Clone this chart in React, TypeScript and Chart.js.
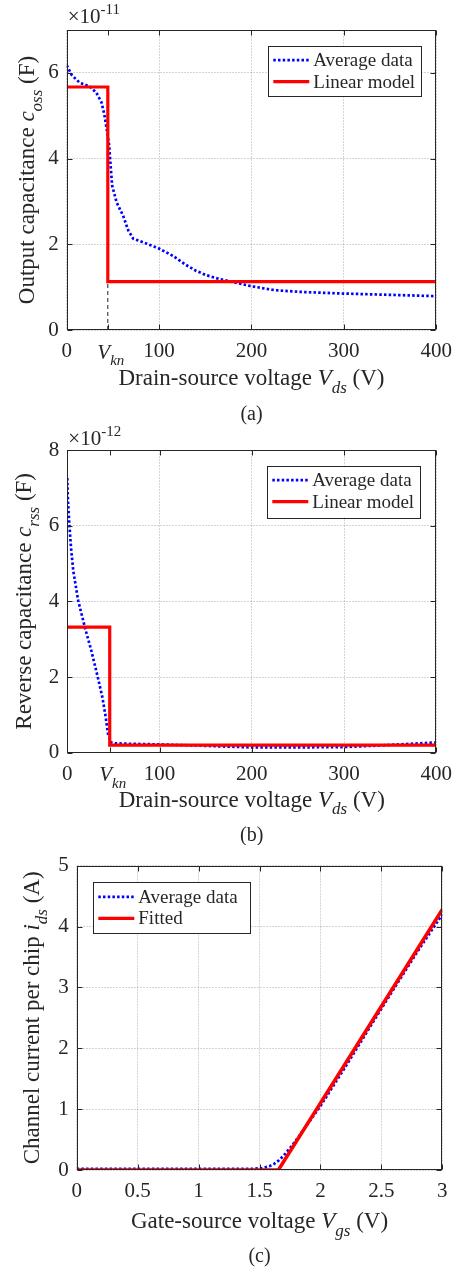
import React, { useEffect, useRef } from "react";
import { Chart, registerables } from "chart.js";

Chart.register(...registerables);

const FONT = '"Liberation Serif", "Times New Roman", Times, serif';
const TXT = "#262626";
const GRID = "rgba(38,38,38,0.2)";
const BLUE = "#0000ff";
const RED = "#ff0000";

// ---------- (a) Output capacitance (×1e-11 F) ----------
const aVds = [0, 5.4, 14, 25, 32, 37.7, 40.6, 43, 46, 47.5, 49.2, 54, 61, 66.5, 72, 86, 100, 115, 129, 140, 151, 165, 180, 200, 225, 252, 275, 300, 350, 400];
const aCoss = [6.18, 5.95, 5.77, 5.68, 5.54, 5.31, 5.04, 4.73, 4.3, 3.84, 3.37, 2.98, 2.67, 2.33, 2.13, 2.02, 1.9, 1.73, 1.52, 1.38, 1.28, 1.19, 1.12, 1.02, 0.93, 0.89, 0.87, 0.85, 0.82, 0.79];
const aModelVds = [0, 44.5, 44.5, 400];
const aModelCoss = [5.67, 5.67, 1.13, 1.13];
const aVkn = 44.5;
const aKneeY = [0, 1.13];
const aXTicks = [0, 100, 200, 300, 400];
const aYTicks = [0, 2, 4, 6];

// ---------- (b) Reverse capacitance (×1e-12 F) ----------
const bVds = [0, 0.6, 2.2, 4, 6.5, 11.8, 19, 26, 33, 38, 41.6, 44, 47.7, 52, 60, 100, 150, 200, 250, 300, 330, 360, 400];
const bCrss = [7.26, 6.7, 6.04, 5.42, 4.8, 4.02, 3.32, 2.7, 2.0, 1.47, 0.95, 0.51, 0.27, 0.25, 0.24, 0.22, 0.18, 0.14, 0.14, 0.15, 0.18, 0.22, 0.27];
const bModelVds = [0, 46, 46, 400];
const bModelCrss = [3.32, 3.32, 0.2, 0.2];
const bVkn = 46;
const bXTicks = [0, 100, 200, 300, 400];
const bYTicks = [0, 2, 4, 6, 8];

// ---------- (c) Channel current ----------
const cVgs = [0, 0.5, 1.0, 1.45, 1.52, 1.58, 1.62, 1.66, 1.7, 1.75, 1.8, 1.9, 2.0, 2.2, 2.4, 2.6, 2.8, 3.0];
const cIds = [0.02, 0.02, 0.02, 0.02, 0.03, 0.06, 0.1, 0.16, 0.24, 0.36, 0.49, 0.77, 1.05, 1.68, 2.33, 2.97, 3.6, 4.2];
const cFitVgs = [0, 1.655, 3];
const cFitIds = [0, 0, 4.28];
const cXTicks = [0, 0.5, 1, 1.5, 2, 2.5, 3];
const cYTicks = [0, 1, 2, 3, 4, 5];

type Seg = { t: string; it?: boolean; sub?: boolean; sup?: boolean };

function segFont(s: Seg, size: number) {
  const sz = s.sub || s.sup ? Math.round(size * 0.72) : size;
  return `${s.it ? "italic " : ""}${sz}px ${FONT}`;
}

function drawRich(ctx: CanvasRenderingContext2D, segs: Seg[], x: number, y: number, size: number, align: "center" | "left") {
  const widths = segs.map((s) => {
    ctx.font = segFont(s, size);
    return ctx.measureText(s.t).width;
  });
  const total = widths.reduce((a, b) => a + b, 0);
  let cx = align === "center" ? x - total / 2 : x;
  ctx.textAlign = "left";
  ctx.textBaseline = "alphabetic";
  segs.forEach((s, i) => {
    ctx.font = segFont(s, size);
    const dy = s.sub ? size * 0.33 : s.sup ? -size * 0.42 : 0;
    ctx.fillText(s.t, cx, y + dy);
    cx += widths[i];
  });
}

const xy = (xs: number[], ys: number[]) => xs.map((x, i) => ({ x, y: ys[i] }));

const BLUE_DASH = [2.5, 2.2];
const BLUE_W = 2.7;

interface LegendItem { label: string; color: string; dash: number[]; width: number }
interface PanelCfg {
  top: number;
  height: number;
  area: { l: number; r: number; t: number; b: number };
  xMin: number; xMax: number; yMin: number; yMax: number;
  xTicks: number[]; yTicks: number[];
  datasets: any[];
  legend: { x: number; y: number; w: number; h: number; items: LegendItem[] };
  vkn?: number;
  exponent?: string;
  expDy: number;
  yTitle: Seg[]; yTitleX: number;
  xTitle: Seg[]; xTitleDy: number;
  caption: string; captionDy: number;
}

const blueDs = (data: any) => ({ data, borderColor: BLUE, borderWidth: BLUE_W, borderDash: BLUE_DASH, borderCapStyle: "butt", pointRadius: 0, tension: 0, order: 1 });
const redDs = (data: any, w = 3.2) => ({ data, borderColor: RED, borderWidth: w, pointRadius: 0, tension: 0, order: 0 });

const legendItems = (second: string): LegendItem[] => [
  { label: "Average data", color: BLUE, dash: BLUE_DASH, width: BLUE_W },
  { label: second, color: RED, dash: [], width: 3.2 },
];

const panels: PanelCfg[] = [
  {
    top: 0, height: 425,
    area: { l: 66.7, r: 437.3, t: 30, b: 330 },
    xMin: 0, xMax: 400, yMin: 0, yMax: 7, xTicks: aXTicks, yTicks: aYTicks,
    datasets: [
      blueDs(xy(aVds, aCoss)),
      redDs(xy(aModelVds, aModelCoss)),
      { data: xy([aVkn, aVkn], aKneeY), borderColor: "#222", borderWidth: 1, borderDash: [4, 3], pointRadius: 0, order: 2 },
    ],
    legend: { x: 268.3, y: 45.7, w: 153.4, h: 49.6, items: legendItems("Linear model") },
    vkn: aVkn, exponent: "-11", expDy: -7,
    yTitle: [{ t: "Output capacitance " }, { t: "c", it: true }, { t: "oss", it: true, sub: true }, { t: " (F)" }], yTitleX: 34,
    xTitle: [{ t: "Drain-source voltage " }, { t: "V", it: true }, { t: "ds", it: true, sub: true }, { t: " (V)" }], xTitleDy: 55,
    caption: "(a)", captionDy: 90,
  },
  {
    top: 425, height: 420,
    area: { l: 67.3, r: 439.3, t: 25, b: 327.7 },
    xMin: 0, xMax: 400, yMin: 0, yMax: 8, xTicks: bXTicks, yTicks: bYTicks,
    datasets: [blueDs(xy(bVds, bCrss)), redDs(xy(bModelVds, bModelCrss))],
    legend: { x: 267.3, y: 40.7, w: 153.4, h: 51.6, items: legendItems("Linear model") },
    vkn: bVkn, exponent: "-12", expDy: -5,
    yTitle: [{ t: "Reverse capacitance " }, { t: "c", it: true }, { t: "rss", it: true, sub: true }, { t: " (F)" }], yTitleX: 31,
    xTitle: [{ t: "Drain-source voltage " }, { t: "V", it: true }, { t: "ds", it: true, sub: true }, { t: " (V)" }], xTitleDy: 54,
    caption: "(b)", captionDy: 88,
  },
  {
    top: 845, height: 426,
    area: { l: 76.7, r: 442.3, t: 20.7, b: 325 },
    xMin: 0, xMax: 3, yMin: 0, yMax: 5, xTicks: cXTicks, yTicks: cYTicks,
    datasets: [blueDs(xy(cVgs, cIds)), redDs(xy(cFitVgs, cFitIds), 3.5)],
    legend: { x: 93.3, y: 37.3, w: 156.7, h: 51, items: legendItems("Fitted") },
    expDy: 0,
    yTitle: [{ t: "Channel current per chip " }, { t: "i", it: true }, { t: "ds", it: true, sub: true }, { t: " (A)" }], yTitleX: 39,
    xTitle: [{ t: "Gate-source voltage " }, { t: "V", it: true }, { t: "gs", it: true, sub: true }, { t: " (V)" }], xTitleDy: 58,
    caption: "(c)", captionDy: 92,
  },
];

function Panel({ cfg }: { cfg: PanelCfg }) {
  const ref = useRef<HTMLCanvasElement>(null);
  useEffect(() => {
    const canvas = ref.current!;
    const { area } = cfg;
    const deco = {
      id: "deco" + cfg.caption,
      afterDraw(chart: any) {
        const ctx: CanvasRenderingContext2D = chart.ctx;
        const ca = chart.chartArea;
        const xs = chart.scales.x;
        const ys = chart.scales.y;
        ctx.save();
        // box
        ctx.strokeStyle = TXT;
        ctx.lineWidth = 1;
        ctx.setLineDash([]);
        const L = Math.round(ca.left) + 0.5, R = Math.round(ca.right) - 0.5;
        const T = Math.round(ca.top) + 0.5, B = Math.round(ca.bottom) - 0.5;
        ctx.strokeRect(L, T, R - L, B - T);
        // inward ticks
        ctx.beginPath();
        const tl = 5;
        const xt = cfg.xTicks.concat(cfg.vkn !== undefined ? [cfg.vkn] : []);
        xt.forEach((v) => {
          const p = Math.round(xs.getPixelForValue(v)) + 0.5;
          ctx.moveTo(p, B); ctx.lineTo(p, B - tl);
          ctx.moveTo(p, T); ctx.lineTo(p, T + tl);
        });
        cfg.yTicks.forEach((v) => {
          const p = Math.round(ys.getPixelForValue(v)) + 0.5;
          ctx.moveTo(L, p); ctx.lineTo(L + tl, p);
          ctx.moveTo(R, p); ctx.lineTo(R - tl, p);
        });
        ctx.stroke();
        ctx.fillStyle = TXT;
        // Vkn tick label
        if (cfg.vkn !== undefined) {
          const p = xs.getPixelForValue(cfg.vkn) + 3;
          drawRich(ctx, [{ t: "V", it: true }, { t: "kn", it: true, sub: true }], p, ca.bottom + 28.5, 21, "center");
        }
        // exponent
        if (cfg.exponent) {
          drawRich(ctx, [{ t: "\u00d710" }, { t: cfg.exponent, sup: true }], ca.left + 1, ca.top + cfg.expDy, 21, "left");
        }
        // legend
        const lg = cfg.legend;
        ctx.fillStyle = "#ffffff";
        ctx.fillRect(lg.x, lg.y, lg.w, lg.h);
        ctx.strokeStyle = TXT;
        ctx.lineWidth = 1;
        ctx.strokeRect(Math.round(lg.x) + 0.5, Math.round(lg.y) + 0.5, Math.round(lg.w), Math.round(lg.h));
        lg.items.forEach((it, i) => {
          const cy = lg.y + (i === 0 ? 14.5 : 36);
          ctx.beginPath();
          ctx.strokeStyle = it.color;
          ctx.lineWidth = it.width;
          ctx.lineCap = "butt";
          ctx.setLineDash(it.dash);
          ctx.moveTo(lg.x + 5, cy);
          ctx.lineTo(lg.x + 41, cy);
          ctx.stroke();
          ctx.setLineDash([]);
          ctx.fillStyle = TXT;
          ctx.font = `19px ${FONT}`;
          ctx.textAlign = "left";
          ctx.textBaseline = "alphabetic";
          ctx.fillText(it.label, lg.x + 45, cy + 6);
        });
        // titles
        ctx.fillStyle = TXT;
        const cx = (ca.left + ca.right) / 2;
        drawRich(ctx, cfg.xTitle, cx, ca.bottom + cfg.xTitleDy, 23, "center");
        ctx.save();
        ctx.translate(cfg.yTitleX, (ca.top + ca.bottom) / 2);
        ctx.rotate(-Math.PI / 2);
        drawRich(ctx, cfg.yTitle, 0, 0, 23, "center");
        ctx.restore();
        ctx.font = `20px ${FONT}`;
        ctx.textAlign = "center";
        ctx.textBaseline = "alphabetic";
        ctx.fillText(cfg.caption, cx, ca.bottom + cfg.captionDy);
        ctx.restore();
      },
    };
    const tickFont = { family: FONT, size: 21 };
    const chart = new Chart(canvas, {
      type: "line",
      data: { datasets: cfg.datasets },
      options: {
        responsive: false,
        animation: false,
        devicePixelRatio: 1,
        layout: { padding: { left: 0, right: 461 - area.r, top: area.t, bottom: 0 } },
        plugins: { legend: { display: false }, tooltip: { enabled: false } },
        scales: {
          x: {
            type: "linear",
            min: cfg.xMin,
            max: cfg.xMax,
            afterBuildTicks: (s: any) => { s.ticks = cfg.xTicks.map((v) => ({ value: v })); },
            afterFit: (s: any) => { s.height = cfg.height - area.b; },
            grid: { color: GRID, lineWidth: 1, drawTicks: false },
            border: { display: false, dash: [2, 1] },
            ticks: { padding: 9, font: tickFont, color: TXT, maxRotation: 0, autoSkip: false, callback: (v: any) => String(v) },
          },
          y: {
            type: "linear",
            min: cfg.yMin,
            max: cfg.yMax,
            afterBuildTicks: (s: any) => { s.ticks = cfg.yTicks.map((v) => ({ value: v })); },
            afterFit: (s: any) => { s.width = area.l; },
            grid: { color: GRID, lineWidth: 1, drawTicks: false },
            border: { display: false, dash: [2, 1] },
            ticks: { padding: 8, font: tickFont, color: TXT, autoSkip: false, callback: (v: any) => String(v) },
          },
        },
      } as any,
      plugins: [deco],
    });
    return () => chart.destroy();
  }, [cfg]);
  return (
    <canvas
      ref={ref}
      width={461}
      height={cfg.height}
      style={{ position: "absolute", left: 0, top: cfg.top, width: 461, height: cfg.height, display: "block" }}
    />
  );
}

export default function App() {
  return (
    <div style={{ position: "absolute", left: 0, top: 0, width: 461, height: 1271, background: "#fff" }}>
      {panels.map((p) => (
        <Panel key={p.caption} cfg={p} />
      ))}
    </div>
  );
}
